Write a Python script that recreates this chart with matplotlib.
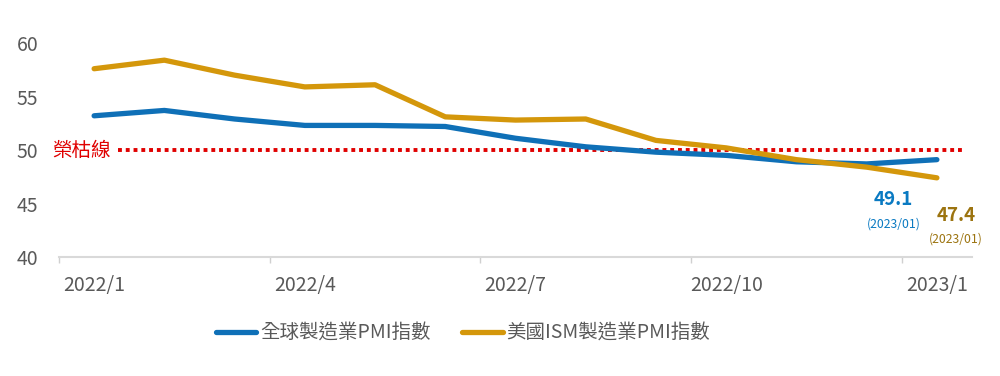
import numpy as np
import matplotlib
matplotlib.use("Agg")
import matplotlib.pyplot as plt
import matplotlib.transforms as mtrans

plt.rcParams['font.family'] = ['Noto Sans CJK TC', 'DejaVu Sans']

# data
months = ["2022/1", "2022/2", "2022/3", "2022/4", "2022/5", "2022/6", "2022/7",
          "2022/8", "2022/9", "2022/10", "2022/11", "2022/12", "2023/1"]
global_pmi = [53.2, 53.7, 52.9, 52.3, 52.3, 52.2, 51.1, 50.3, 49.8, 49.5, 48.9, 48.7, 49.1]
ism_pmi = [57.6, 58.4, 57.0, 55.9, 56.1, 53.1, 52.8, 52.9, 50.9, 50.2, 49.1, 48.4, 47.4]
threshold = 50
yticks = [40, 45, 50, 55, 60]

blue = "#0F70B7"
gold = "#D4970B"
gray = "#595959"

fig = plt.figure(figsize=(10, 3.76), dpi=100)
ax = fig.add_axes([0.059, 0.3165, 0.913, 0.569])

x = np.arange(len(months))
ax.plot(x, global_pmi, color=blue, lw=3.8, solid_capstyle='round', label="全球製造業PMI指數", zorder=3)
ax.plot(x, ism_pmi, color=gold, lw=3.8, solid_capstyle='round', label="美國ISM製造業PMI指數", zorder=3)

# threshold line
ax.axhline(threshold, xmin=0.065, xmax=0.992, color="#E00000", lw=2.8,
           linestyle=(0, (1, 1)), zorder=2)
tr = mtrans.blended_transform_factory(ax.transAxes, ax.transData)
ax.text(0.057, threshold, "榮枯線", color="#E00000", fontsize=14,
        ha='right', va='center', transform=tr)

# last-value labels
ax.text(x[-1] - 0.62, global_pmi[-1] - 3.75, f"{global_pmi[-1]}", color="#0A7AC2",
        fontsize=13.5, fontweight='bold', ha='center', va='center')
ax.text(x[-1] - 0.62, global_pmi[-1] - 6.05, "(2023/01)", color="#0A7AC2",
        fontsize=8.8, ha='center', va='center')
ax.text(x[-1] + 0.27, ism_pmi[-1] - 3.55, f"{ism_pmi[-1]}", color="#9C7410",
        fontsize=13.5, fontweight='bold', ha='center', va='center')
ax.text(x[-1] + 0.27, ism_pmi[-1] - 5.75, "(2023/01)", color="#9C7410",
        fontsize=8.8, ha='center', va='center')

ax.set_xlim(-0.5, len(months) - 0.5)
ax.set_ylim(40, 60)
ax.set_yticks(yticks)
ax.tick_params(axis='y', length=0, pad=15, labelsize=14, labelcolor=gray)

# labels at every third month, tick marks between categories
ax.set_xticks(x[::3])
ax.set_xticklabels(months[::3])
ax.tick_params(axis='x', which='major', length=0, pad=13, labelsize=14, labelcolor=gray)
ax.set_xticks(np.arange(-0.5, len(months), 3), minor=True)
ax.tick_params(axis='x', which='minor', length=4, width=1, color="#D0D0D0", direction='out')

for s in ['top', 'right', 'left']:
    ax.spines[s].set_visible(False)
ax.spines['bottom'].set_color("#D9D9D9")
ax.spines['bottom'].set_linewidth(1.5)

leg = fig.legend(loc='center', bbox_to_anchor=(0.463, 0.114), ncol=2, frameon=False,
                 fontsize=14, handlelength=2.1, handletextpad=0.2, columnspacing=1.6)
for t in leg.get_texts():
    t.set_color(gray)

fig.savefig("out.png", dpi=100)
